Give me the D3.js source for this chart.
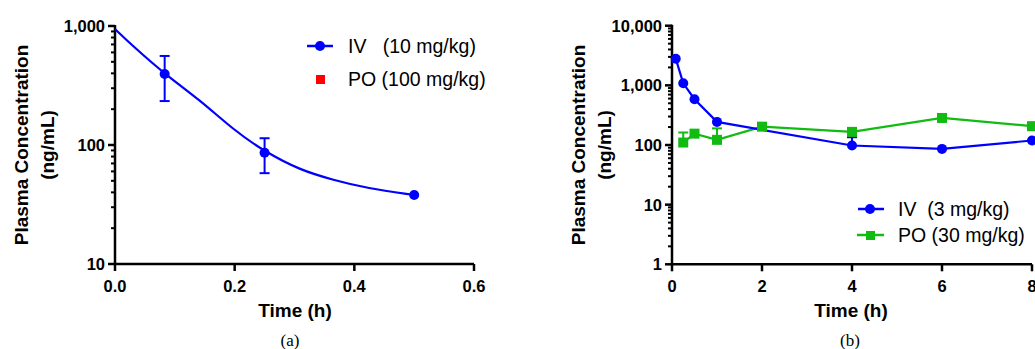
<!DOCTYPE html>
<html lang="en">
<head>
<meta charset="utf-8">
<title>Plasma concentration</title>
<script src="https://d3js.org/d3.v7.min.js"></script>
<style>
  body { margin: 0; background: #fff; }
  svg text { font-family: Arial, "Liberation Sans", Helvetica, sans-serif; }
  .tick-label { font-weight: bold; font-size: 16.5px; }
  .axis-title { font-weight: bold; font-size: 19px; }
  .legend { font-size: 19.5px; white-space: pre; }
  svg text.caption { font-family: "Times New Roman", "Liberation Serif", serif; font-size: 17px; }
</style>
</head>
<body>
<svg id="chart" width="1035" height="349"></svg>
<script>
// ---- panel (a): IV 10 mg/kg ----
var aTime = [0.083, 0.25, 0.5];
var aConc = [395, 86, 38];
var aLow  = [234, 58, 38];
var aHigh = [560, 114, 38];
// fitted curve
var aFitTime = [0, 0.031, 0.083, 0.142, 0.198, 0.25, 0.309, 0.365, 0.421, 0.5];
var aFitConc = [944, 670, 395, 239, 134, 88, 61.6, 50.8, 43.3, 38];
var aXTicks = [0, 0.2, 0.4, 0.6];
var aYTicks = [10, 100, 1000];

// ---- panel (b) ----
var bTime    = [0.083, 0.25, 0.5, 1, 4, 6, 8];
var bIV      = [2800, 1084, 585, 244, 98, 86, 119];
var bIVHigh  = [2800, 1084, 585, 244, 135, 86, 119];
var bPOTime  = [0.25, 0.5, 1, 2, 4, 6, 8];
var bPO      = [110, 155, 122, 203, 166, 284, 207];
var bPOHigh  = [162, 155, 190, 203, 166, 284, 207];
var bXTicks = [0, 2, 4, 6, 8];
var bYTicks = [1, 10, 100, 1000, 10000];

var blue = '#0000ff', green = '#11bb11', red = '#ff0000';
var svg = d3.select('#chart');

function fmt(v) { return d3.format(',')(v); }

function drawAxes(g, x, y, xTicks, yTicks, xFmt) {
  var x0 = x.range()[0], x1 = x.range()[1];
  var yb = y.range()[0], yt = y.range()[1];
  // minor log ticks
  var minor = [];
  for (var i = 0; i < yTicks.length - 1; i++)
    for (var k = 2; k <= 9; k++) minor.push(yTicks[i] * k);
  g.selectAll('.minor').data(minor).enter().append('line')
    .attr('x1', x0 - 4).attr('x2', x0)
    .attr('y1', d => y(d)).attr('y2', d => y(d))
    .attr('stroke', '#000').attr('stroke-width', 2);
  g.selectAll('.ymaj').data(yTicks).enter().append('line')
    .attr('x1', x0 - 7).attr('x2', x0)
    .attr('y1', d => y(d)).attr('y2', d => y(d))
    .attr('stroke', '#000').attr('stroke-width', 2.5);
  g.selectAll('.ylab').data(yTicks).enter().append('text')
    .attr('class', 'tick-label').attr('text-anchor', 'end')
    .attr('x', x0 - 10).attr('y', d => y(d)).attr('dy', '0.36em')
    .text(fmt);
  g.selectAll('.xmaj').data(xTicks).enter().append('line')
    .attr('x1', d => x(d)).attr('x2', d => x(d))
    .attr('y1', yb).attr('y2', yb + 7)
    .attr('stroke', '#000').attr('stroke-width', 2.5);
  g.selectAll('.xlab').data(xTicks).enter().append('text')
    .attr('class', 'tick-label').attr('text-anchor', 'middle')
    .attr('x', d => x(d)).attr('y', yb + 28)
    .text(xFmt);
  // axis lines
  g.append('path').attr('d', 'M' + x0 + ',' + (yt - 1) + 'V' + yb + 'H' + x1)
    .attr('fill', 'none').attr('stroke', '#000').attr('stroke-width', 2.5);
}

function yTitle(g, cx1, cx2, cy) {
  g.append('text').attr('class', 'axis-title').attr('text-anchor', 'middle')
    .attr('transform', 'translate(' + cx1 + ',' + cy + ') rotate(-90)')
    .attr('dy', '0.36em').text('Plasma Concentration');
  g.append('text').attr('class', 'axis-title').attr('text-anchor', 'middle')
    .attr('transform', 'translate(' + cx2 + ',' + cy + ') rotate(-90)')
    .attr('dy', '0.36em').text('(ng/mL)');
}

function errBars(g, xs, mids, lows, highs, x, y, color) {
  xs.forEach(function(t, i) {
    var px = x(t);
    if (highs[i] > mids[i]) {
      g.append('line').attr('x1', px).attr('x2', px).attr('y1', y(mids[i])).attr('y2', y(highs[i]))
        .attr('stroke', color).attr('stroke-width', 2);
      g.append('line').attr('x1', px - 5).attr('x2', px + 5).attr('y1', y(highs[i])).attr('y2', y(highs[i]))
        .attr('stroke', color).attr('stroke-width', 2);
    }
    if (lows && lows[i] < mids[i]) {
      g.append('line').attr('x1', px).attr('x2', px).attr('y1', y(mids[i])).attr('y2', y(lows[i]))
        .attr('stroke', color).attr('stroke-width', 2);
      g.append('line').attr('x1', px - 5).attr('x2', px + 5).attr('y1', y(lows[i])).attr('y2', y(lows[i]))
        .attr('stroke', color).attr('stroke-width', 2);
    }
  });
}

// ===== panel (a) =====
var ga = svg.append('g');
var xa = d3.scaleLinear().domain([0, 0.6]).range([115, 474]);
var ya = d3.scaleLog().domain([10, 1000]).range([264, 26]);
drawAxes(ga, xa, ya, aXTicks, aYTicks, d3.format('.1f'));

var fitA = aFitTime.map((t, i) => [t, aFitConc[i]]);
ga.append('path').datum(fitA)
  .attr('d', d3.line().x(d => xa(d[0])).y(d => ya(d[1])).curve(d3.curveBasis))
  .attr('fill', 'none').attr('stroke', blue).attr('stroke-width', 2.2);
errBars(ga, aTime, aConc, aLow, aHigh, xa, ya, blue);
ga.selectAll('.pa').data(aTime).enter().append('circle')
  .attr('cx', d => xa(d)).attr('cy', (d, i) => ya(aConc[i])).attr('r', 5).attr('fill', blue);

ga.append('text').attr('class', 'axis-title').attr('text-anchor', 'middle')
  .attr('x', 295).attr('y', 317).text('Time (h)');
yTitle(ga, 21, 47, 145);

// legend (a)
ga.append('line').attr('x1', 307).attr('x2', 333).attr('y1', 46).attr('y2', 46)
  .attr('stroke', blue).attr('stroke-width', 2.5);
ga.append('circle').attr('cx', 320).attr('cy', 46).attr('r', 5).attr('fill', blue);
ga.append('text').attr('class', 'legend').attr('x', 348).attr('y', 46).attr('dy', '0.36em')
  .text('IV   (10 mg/kg)');
ga.append('rect').attr('x', 316).attr('y', 75).attr('width', 9).attr('height', 9).attr('fill', red);
ga.append('text').attr('class', 'legend').attr('x', 348).attr('y', 79).attr('dy', '0.36em')
  .text('PO (100 mg/kg)');
ga.append('text').attr('class', 'caption').attr('text-anchor', 'middle')
  .attr('x', 290).attr('y', 346).text('(a)');

// ===== panel (b) =====
var gb = svg.append('g');
var xb = d3.scaleLinear().domain([0, 8]).range([672, 1032]);
var yb = d3.scaleLog().domain([1, 10000]).range([264.3, 25.7]);
drawAxes(gb, xb, yb, bXTicks, bYTicks, d3.format('d'));

var lineB = d3.line().x(d => xb(d[0])).y(d => yb(d[1]));
gb.append('path').datum(bPOTime.map((t, i) => [t, bPO[i]])).attr('d', lineB)
  .attr('fill', 'none').attr('stroke', green).attr('stroke-width', 2.2);
gb.append('path').datum(bTime.map((t, i) => [t, bIV[i]])).attr('d', lineB)
  .attr('fill', 'none').attr('stroke', blue).attr('stroke-width', 2.2);
errBars(gb, bPOTime, bPO, null, bPOHigh, xb, yb, green);
errBars(gb, bTime, bIV, null, bIVHigh, xb, yb, blue);
gb.selectAll('.pb').data(bPOTime).enter().append('rect')
  .attr('x', d => xb(d) - 5).attr('y', (d, i) => yb(bPO[i]) - 5)
  .attr('width', 10).attr('height', 10).attr('fill', green);
gb.selectAll('.ib').data(bTime).enter().append('circle')
  .attr('cx', d => xb(d)).attr('cy', (d, i) => yb(bIV[i])).attr('r', 5).attr('fill', blue);

gb.append('text').attr('class', 'axis-title').attr('text-anchor', 'middle')
  .attr('x', 851).attr('y', 317).text('Time (h)');
yTitle(gb, 578, 604, 145);

// legend (b)
gb.append('line').attr('x1', 858).attr('x2', 884).attr('y1', 209).attr('y2', 209)
  .attr('stroke', blue).attr('stroke-width', 2.5);
gb.append('circle').attr('cx', 870).attr('cy', 209).attr('r', 5).attr('fill', blue);
gb.append('text').attr('class', 'legend').attr('x', 898).attr('y', 209).attr('dy', '0.36em')
  .text('IV  (3 mg/kg)');
gb.append('line').attr('x1', 857).attr('x2', 884).attr('y1', 235).attr('y2', 235)
  .attr('stroke', green).attr('stroke-width', 2.5);
gb.append('rect').attr('x', 866).attr('y', 231).attr('width', 9).attr('height', 9).attr('fill', green);
gb.append('text').attr('class', 'legend').attr('x', 898).attr('y', 235).attr('dy', '0.36em')
  .text('PO (30 mg/kg)');
gb.append('text').attr('class', 'caption').attr('text-anchor', 'middle')
  .attr('x', 850).attr('y', 346).text('(b)');
</script>
</body>
</html>
